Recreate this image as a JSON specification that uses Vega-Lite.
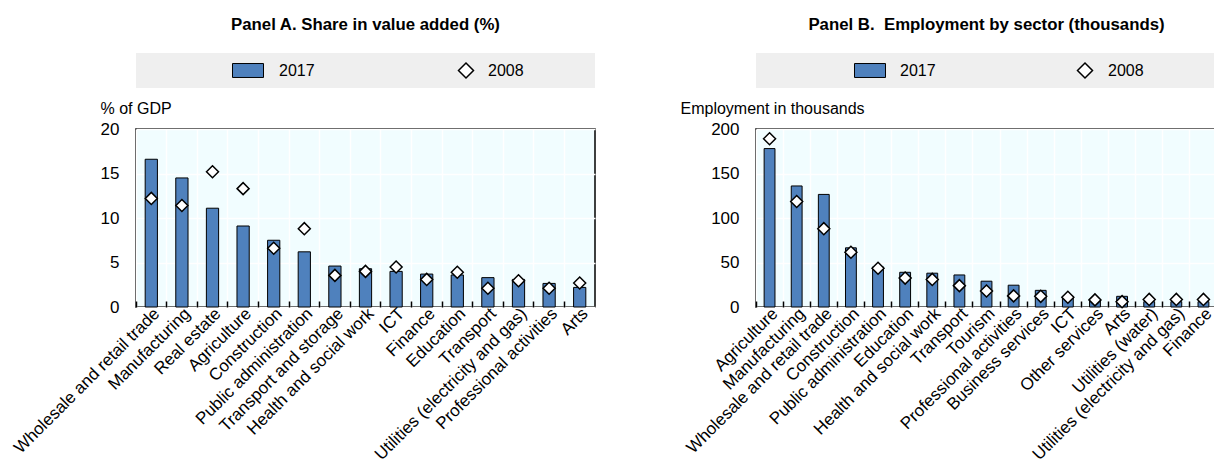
{
  "$schema": "https://vega.github.io/schema/vega-lite/v6.json",
  "padding": {"left": 9, "top": 17, "right": 0, "bottom": 0},
  "autosize": {"type": "pad"},
  "background": "#ffffff",
  "config": {
    "font": "Liberation Sans",
    "title": {"fontSize": 16.8, "fontWeight": "bold", "color": "#000000", "anchor": "middle", "offset": 19},
    "axis": {"labelColor": "#000000", "titleColor": "#000000", "labelFontSize": 17, "titleFontSize": 16, "titleFontWeight": "normal", "labelFont": "Liberation Sans", "titleFont": "Liberation Sans"},
    "text": {"fontSize": 16, "color": "#000000"}
  },
  "datasets": {
    "legend": [{"series": "2017"}, {"series": "2008"}],
    "a": [
      {"sector": "Wholesale and retail trade", "v2017": 16.6, "v2008": 12.2},
      {"sector": "Manufacturing", "v2017": 14.5, "v2008": 11.4},
      {"sector": "Real estate", "v2017": 11.1, "v2008": 15.2},
      {"sector": "Agriculture", "v2017": 9.1, "v2008": 13.3},
      {"sector": "Construction", "v2017": 7.5, "v2008": 6.6},
      {"sector": "Public administration", "v2017": 6.2, "v2008": 8.8},
      {"sector": "Transport and storage", "v2017": 4.6, "v2008": 3.55},
      {"sector": "Health and social work", "v2017": 4.3, "v2008": 4.0},
      {"sector": "ICT", "v2017": 4.0, "v2008": 4.5},
      {"sector": "Finance", "v2017": 3.7, "v2008": 3.1},
      {"sector": "Education", "v2017": 3.6, "v2008": 3.9},
      {"sector": "Transport", "v2017": 3.3, "v2008": 2.1},
      {"sector": "Utilities (electricity and gas)", "v2017": 3.1, "v2008": 2.95},
      {"sector": "Professional activities", "v2017": 2.65, "v2008": 2.1},
      {"sector": "Arts", "v2017": 2.2, "v2008": 2.7}
    ],
    "b": [
      {"sector": "Agriculture", "v2017": 178, "v2008": 189},
      {"sector": "Manufacturing", "v2017": 136, "v2008": 118.5},
      {"sector": "Wholesale and retail trade", "v2017": 126.5, "v2008": 88},
      {"sector": "Construction", "v2017": 66.5, "v2008": 61.5},
      {"sector": "Public administration", "v2017": 45, "v2008": 43.5},
      {"sector": "Education", "v2017": 39, "v2008": 32.5},
      {"sector": "Health and social work", "v2017": 38, "v2008": 31},
      {"sector": "Transport", "v2017": 36, "v2008": 24},
      {"sector": "Tourism", "v2017": 29, "v2008": 18},
      {"sector": "Professional activities", "v2017": 24.5, "v2008": 12.5},
      {"sector": "Business services", "v2017": 18.7, "v2008": 12},
      {"sector": "ICT", "v2017": 12, "v2008": 11},
      {"sector": "Other services", "v2017": 8, "v2008": 8},
      {"sector": "Arts", "v2017": 12, "v2008": 6},
      {"sector": "Utilities (water)", "v2017": 6, "v2008": 8.5},
      {"sector": "Utilities (electricity and gas)", "v2017": 6, "v2008": 8.5},
      {"sector": "Finance", "v2017": 6, "v2008": 8.5}
    ]
  },
  "hconcat": [
    {
      "vconcat": [
        {
          "title": {"text": "Panel A. Share in value added (%)"},
          "width": 459,
          "height": 35,
          "view": {"fill": "#efefef", "stroke": null},
          "data": {"name": "legend"},
          "encoding": {
            "x": {"field": "series", "type": "nominal", "scale": {"type": "point", "domain": ["2017", "2008"], "range": [112, 330], "padding": 0}, "axis": null}
          },
          "layer": [
            {"transform": [{"filter": "datum.series === '2017'"}], "mark": {"type": "point", "shape": "M-1,-0.45L1,-0.45L1,0.45L-1,0.45Z", "size": 961, "filled": true, "fill": "#4f81bd", "stroke": "#000000", "strokeWidth": 1, "opacity": 1}},
            {"transform": [{"filter": "datum.series === '2008'"}], "mark": {"type": "point", "shape": "diamond", "size": 225, "filled": true, "fill": "#ffffff", "stroke": "#000000", "strokeWidth": 1.5, "opacity": 1}},
            {"transform": [{"filter": "datum.series === '2017'"}], "mark": {"type": "text", "align": "left", "baseline": "middle", "dx": 31}, "encoding": {"text": {"field": "series"}}},
            {"transform": [{"filter": "datum.series === '2008'"}], "mark": {"type": "text", "align": "left", "baseline": "middle", "dx": 22}, "encoding": {"text": {"field": "series"}}}
          ]
        },
        {
          "width": 459,
          "height": 178,
          "view": {"fill": "#f1fdff", "stroke": "#000000", "strokeWidth": 1.5},
          "data": {"name": "a"},
          "encoding": {
            "x": {"field": "sector", "type": "nominal", "sort": null, "title": null,
              "scale": {"paddingInner": 0, "paddingOuter": 0},
              "axis": {"bandPosition": 0, "labelAngle": -45, "labelAlign": "right", "labelBaseline": "top", "labelLimit": 400, "labelOverlap": false, "labelPadding": 4, "domain": false, "ticks": true, "tickSize": -6, "tickWidth": 1.5, "tickColor": "#000000", "grid": true, "gridColor": "#ffffff", "gridWidth": 1.5}}
          },
          "layer": [
            {
              "mark": {"type": "bar", "width": {"band": 0.4}, "fill": "#4f81bd", "stroke": "#000000", "strokeWidth": 1},
              "encoding": {"y": {"field": "v2017", "type": "quantitative", "title": "% of GDP", "scale": {"domain": [0, 20], "nice": false},
                "axis": {"values": [0, 5, 10, 15, 20], "domain": false, "ticks": false, "labelPadding": 17, "grid": true, "gridColor": "#ffffff", "gridWidth": 1.5, "titleAngle": 0, "titleAlign": "left", "titleBaseline": "alphabetic", "titleX": -36, "titleY": -16}}}
            },
            {
              "mark": {"type": "point", "shape": "diamond", "size": 144, "filled": true, "fill": "#ffffff", "stroke": "#000000", "strokeWidth": 1.5, "opacity": 1},
              "encoding": {"y": {"field": "v2008", "type": "quantitative", "title": "% of GDP"}}
            }
          ]
        }
      ],
      "spacing": 41,
      "bounds": "flush"
    },
    {
      "vconcat": [
        {
          "title": {"text": "Panel B.\u00a0 Employment by sector (thousands)"},
          "width": 461,
          "height": 35,
          "view": {"fill": "#efefef", "stroke": null},
          "data": {"name": "legend"},
          "encoding": {
            "x": {"field": "series", "type": "nominal", "scale": {"type": "point", "domain": ["2017", "2008"], "range": [114, 329], "padding": 0}, "axis": null}
          },
          "layer": [
            {"transform": [{"filter": "datum.series === '2017'"}], "mark": {"type": "point", "shape": "M-1,-0.45L1,-0.45L1,0.45L-1,0.45Z", "size": 961, "filled": true, "fill": "#4f81bd", "stroke": "#000000", "strokeWidth": 1, "opacity": 1}},
            {"transform": [{"filter": "datum.series === '2008'"}], "mark": {"type": "point", "shape": "diamond", "size": 225, "filled": true, "fill": "#ffffff", "stroke": "#000000", "strokeWidth": 1.5, "opacity": 1}},
            {"transform": [{"filter": "datum.series === '2017'"}], "mark": {"type": "text", "align": "left", "baseline": "middle", "dx": 30}, "encoding": {"text": {"field": "series"}}},
            {"transform": [{"filter": "datum.series === '2008'"}], "mark": {"type": "text", "align": "left", "baseline": "middle", "dx": 23}, "encoding": {"text": {"field": "series"}}}
          ]
        },
        {
          "width": 461,
          "height": 178,
          "view": {"fill": "#f1fdff", "stroke": "#000000", "strokeWidth": 1.5},
          "data": {"name": "b"},
          "encoding": {
            "x": {"field": "sector", "type": "nominal", "sort": null, "title": null,
              "scale": {"paddingInner": 0, "paddingOuter": 0},
              "axis": {"bandPosition": 0, "labelAngle": -45, "labelAlign": "right", "labelBaseline": "top", "labelLimit": 400, "labelOverlap": false, "labelPadding": 4, "domain": false, "ticks": true, "tickSize": -6, "tickWidth": 1.5, "tickColor": "#000000", "grid": true, "gridColor": "#ffffff", "gridWidth": 1.5}}
          },
          "layer": [
            {
              "mark": {"type": "bar", "width": {"band": 0.4}, "fill": "#4f81bd", "stroke": "#000000", "strokeWidth": 1},
              "encoding": {"y": {"field": "v2017", "type": "quantitative", "title": "Employment in thousands", "scale": {"domain": [0, 200], "nice": false},
                "axis": {"values": [0, 50, 100, 150, 200], "domain": false, "ticks": false, "labelPadding": 17, "grid": true, "gridColor": "#ffffff", "gridWidth": 1.5, "titleAngle": 0, "titleAlign": "left", "titleBaseline": "alphabetic", "titleX": -76, "titleY": -16}}}
            },
            {
              "mark": {"type": "point", "shape": "diamond", "size": 144, "filled": true, "fill": "#ffffff", "stroke": "#000000", "strokeWidth": 1.5, "opacity": 1},
              "encoding": {"y": {"field": "v2008", "type": "quantitative", "title": "Employment in thousands"}}
            }
          ]
        }
      ],
      "spacing": 41,
      "bounds": "flush"
    }
  ],
  "spacing": 83,
  "bounds": "full"
}
